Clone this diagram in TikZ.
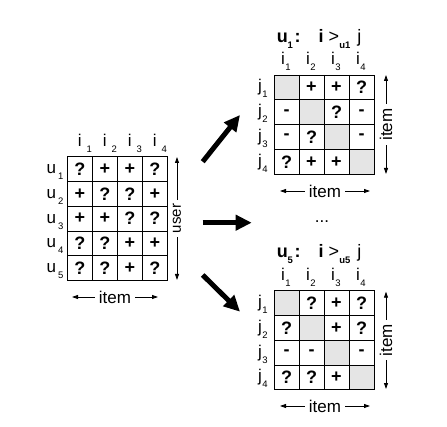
\documentclass[tikz,border=0pt]{standalone}
\usepackage{fontspec}
\setmainfont{Liberation Sans}
\usepackage{tikz}
\usetikzlibrary{positioning, arrows.meta}
\definecolor{diaggray}{rgb}{0.9,0.9,0.9}

\newcommand{\subfont}{\fontsize{9.5}{9.5}\selectfont}
\newcommand{\lab}[3][1pt]{#2\rlap{\hspace{#1}\smash{\raisebox{-6pt}{\subfont #3}}}}
\newcommand{\prefttl}[1]{{\bfseries u\rlap{\smash{\raisebox{-6pt}{\subfont #1}}}\hspace{7pt}:}\hspace{18pt}{\bfseries i}\hspace{5pt}>\rlap{\smash{\raisebox{-6pt}{\subfont\bfseries u#1}}}\hspace{18pt}j}

\tikzstyle{cell}=[%
      rectangle, draw=none, outer sep=0pt, inner sep=0pt,
      minimum width=25pt, minimum height=24.8pt,
      font=\fontsize{18}{18}\selectfont\bfseries
]
\tikzstyle{gridline}=[line width=0.9pt]
\tikzstyle{lbl}=[inner sep=0pt, font=\fontsize{17}{17}\selectfont]
\tikzstyle{ttl}=[inner sep=0pt, font=\fontsize{18}{18}\selectfont]
\tikzstyle{axarrow}=[line width=0.8pt, {Triangle[length=6pt,width=4pt]}-{Triangle[length=6pt,width=4pt]}]
\tikzstyle{axtext}=[fill=white, inner sep=4pt, font=\fontsize{17}{17}\selectfont]
\tikzstyle{bigarrow}=[line width=5pt, -{Triangle[length=16pt,width=15pt]}]

\begin{document}
\begin{tikzpicture}[x=1pt, y=1pt]
    \useasboundingbox (0,0) rectangle (447,426);

    % user x item
    \foreach \row [count=\r] in {{?,+,+,?},{+,?,?,+},{+,+,?,?},{?,?,+,+},{?,?,+,?}}
      \foreach \v [count=\c] in \row
        \node[cell] (L-\r-\c) at ({79.8+25*(\c-1)}, {256.9-24.8*(\r-1)}) {\v};
    \foreach \c in {1,2,3}
      \draw[gridline] (L-1-\c.north east) -- (L-5-\c.south east);
    \foreach \r in {1,...,4}
      \draw[gridline] (L-\r-1.south west) -- (L-\r-4.south east);
    \draw[gridline] (L-5-1.south west) rectangle (L-1-4.north east);
    \node[lbl, above=10pt of L-1-1] (Li1) {\lab[5pt]{i}{1}};
    \node[lbl, above=10pt of L-1-2] (Li2) {\lab[5pt]{i}{2}};
    \node[lbl, above=10pt of L-1-3] (Li3) {\lab[5pt]{i}{3}};
    \node[lbl, above=10pt of L-1-4] (Li4) {\lab[5pt]{i}{4}};
    \node[lbl, left=11pt of L-1-1] (Lu1) {\lab[2pt]{u}{1}};
    \node[lbl, left=11pt of L-2-1] (Lu2) {\lab[2pt]{u}{2}};
    \node[lbl, left=11pt of L-3-1] (Lu3) {\lab[2pt]{u}{3}};
    \node[lbl, left=11pt of L-4-1] (Lu4) {\lab[2pt]{u}{4}};
    \node[lbl, left=11pt of L-5-1] (Lu5) {\lab[2pt]{u}{5}};

    \coordinate (Lh1) at (72,129);
    \coordinate (Lh2) at (158,129);
    \coordinate (Lv1) at (177,269);
    \coordinate (Lv2) at (177,146);
    \draw[axarrow] (Lh1) -- node[axtext] {item} (Lh2);
    \draw[axarrow] (Lv1) -- node[axtext, rotate=90, font=\fontsize{15}{15}\selectfont] {user} (Lv2);

    % item x item for u1
    \foreach \row [count=\r] in {{{},+,+,?},{-,{},?,-},{-,?,{},-},{?,+,+,{}}}
      \foreach \v [count=\c] in \row
        \node[cell] (A-\r-\c) at ({286.5+25*(\c-1)}, {338.6-24.8*(\r-1)}) {\v};
    \foreach \k in {1,...,4}
      \fill[diaggray] (A-\k-\k.south west) rectangle (A-\k-\k.north east);
    \foreach \k in {1,2,3} {
      \draw[gridline] (A-1-\k.north east) -- (A-4-\k.south east);
      \draw[gridline] (A-\k-1.south west) -- (A-\k-4.south east);
    }
    \draw[gridline] (A-4-1.south west) rectangle (A-1-4.north east);
    \node[ttl, above=29pt of A-1-2.north east, xshift=-5pt] (At) {\prefttl{1}};
    \node[lbl, above=10pt of A-1-1, xshift=-3.5pt] (Ai1) {\lab[0.5pt]{i}{1}};
    \node[lbl, above=10pt of A-1-2, xshift=-3.5pt] (Ai2) {\lab[0.5pt]{i}{2}};
    \node[lbl, above=10pt of A-1-3, xshift=-3.5pt] (Ai3) {\lab[0.5pt]{i}{3}};
    \node[lbl, above=10pt of A-1-4, xshift=-3.5pt] (Ai4) {\lab[0.5pt]{i}{4}};
    \node[lbl, left=12pt of A-1-1] (Aj1) {\lab[0.5pt]{j}{1}};
    \node[lbl, left=12pt of A-2-1] (Aj2) {\lab[0.5pt]{j}{2}};
    \node[lbl, left=12pt of A-3-1] (Aj3) {\lab[0.5pt]{j}{3}};
    \node[lbl, left=12pt of A-4-1] (Aj4) {\lab[0.5pt]{j}{4}};

    \coordinate (Ah1) at (280,235);
    \coordinate (Ah2) at (370,235);
    \coordinate (Av1) at (386,351);
    \coordinate (Av2) at (386,252);
    \draw[axarrow] (Ah1) -- node[axtext] {item} (Ah2);
    \draw[axarrow] (Av1) -- node[axtext, rotate=90] {item} (Av2);

    \node[font=\fontsize{17}{17}\selectfont] (dots) at (322,204) {...};

    % item x item for u5
    \foreach \row [count=\r] in {{{},?,+,?},{?,{},+,?},{-,-,{},-},{?,?,+,{}}}
      \foreach \v [count=\c] in \row
        \node[cell] (B-\r-\c) at ({286.5+25*(\c-1)}, {122.9-24.8*(\r-1)}) {\v};
    \foreach \k in {1,...,4}
      \fill[diaggray] (B-\k-\k.south west) rectangle (B-\k-\k.north east);
    \foreach \k in {1,2,3} {
      \draw[gridline] (B-1-\k.north east) -- (B-4-\k.south east);
      \draw[gridline] (B-\k-1.south west) -- (B-\k-4.south east);
    }
    \draw[gridline] (B-4-1.south west) rectangle (B-1-4.north east);
    \node[ttl, above=29pt of B-1-2.north east, xshift=-5pt] (Bt) {\prefttl{5}};
    \node[lbl, above=10pt of B-1-1, xshift=-3.5pt] (Bi1) {\lab[0.5pt]{i}{1}};
    \node[lbl, above=10pt of B-1-2, xshift=-3.5pt] (Bi2) {\lab[0.5pt]{i}{2}};
    \node[lbl, above=10pt of B-1-3, xshift=-3.5pt] (Bi3) {\lab[0.5pt]{i}{3}};
    \node[lbl, above=10pt of B-1-4, xshift=-3.5pt] (Bi4) {\lab[0.5pt]{i}{4}};
    \node[lbl, left=12pt of B-1-1] (Bj1) {\lab[0.5pt]{j}{1}};
    \node[lbl, left=12pt of B-2-1] (Bj2) {\lab[0.5pt]{j}{2}};
    \node[lbl, left=12pt of B-3-1] (Bj3) {\lab[0.5pt]{j}{3}};
    \node[lbl, left=12pt of B-4-1] (Bj4) {\lab[0.5pt]{j}{4}};

    \coordinate (Bh1) at (280,20);
    \coordinate (Bh2) at (370,20);
    \coordinate (Bv1) at (386,134.3);
    \coordinate (Bv2) at (386,37);
    \draw[axarrow] (Bh1) -- node[axtext] {item} (Bh2);
    \draw[axarrow] (Bv1) -- node[axtext, rotate=90] {item} (Bv2);

    % L to A and B
    \coordinate (upS) at (202.7,264.3);
    \coordinate (upE) at (240,311);
    \coordinate (rtS) at (202.7,203.3);
    \coordinate (rtE) at (251.7,203.3);
    \coordinate (dnS) at (202.7,151);
    \coordinate (dnE) at (240,114.3);
    \draw[bigarrow] (upS) -- (upE);
    \draw[bigarrow] (rtS) -- (rtE);
    \draw[bigarrow] (dnS) -- (dnE);

\end{tikzpicture}
\end{document}
